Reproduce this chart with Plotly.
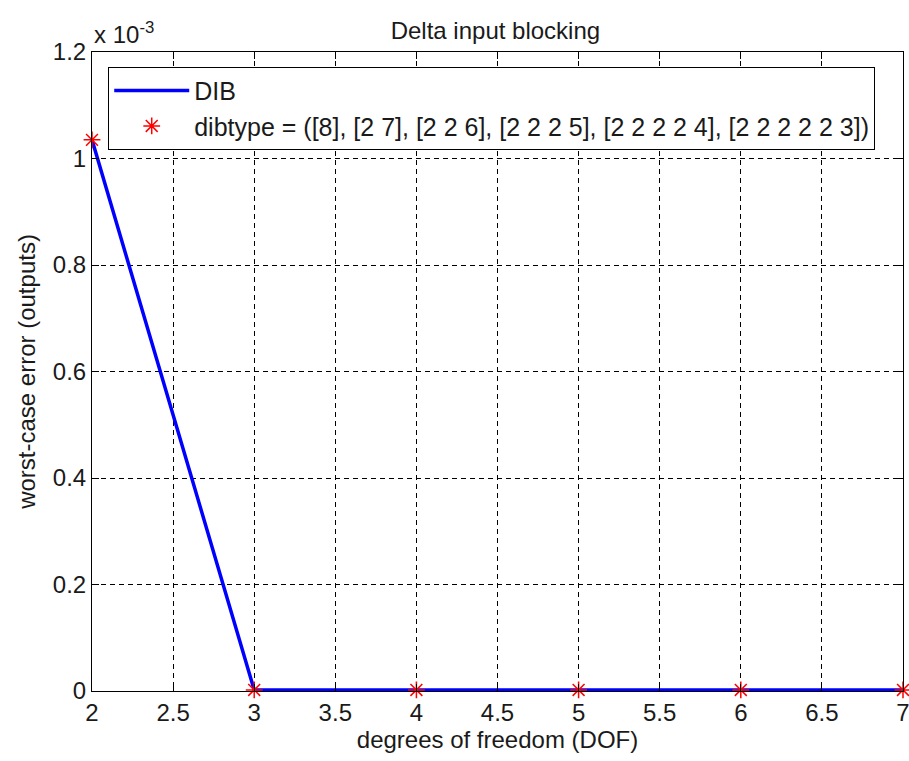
import plotly.graph_objects as go

dof = [2, 3, 4, 5, 6, 7]
worst_case_error = [1.035e-3, 2e-6, 2e-6, 2e-6, 2e-6, 2e-6]
x_ticks = [2, 2.5, 3, 3.5, 4, 4.5, 5, 5.5, 6, 6.5, 7]
y_tick_vals = [0, 0.2e-3, 0.4e-3, 0.6e-3, 0.8e-3, 1.0e-3, 1.2e-3]
y_tick_text = ["0", "0.2", "0.4", "0.6", "0.8", "1", "1.2"]

FONT = "Liberation Sans, Arial, sans-serif"
TXT = "#1a1a1a"

fig = go.Figure()
fig.add_trace(go.Scatter(
    x=dof, y=worst_case_error, mode="lines", name="DIB",
    line=dict(color="#0000ff", width=3.5), cliponaxis=False,
))
fig.add_trace(go.Scatter(
    x=dof, y=worst_case_error, mode="markers",
    name="dibtype = ([8], [2 7], [2 2 6], [2 2 2 5], [2 2 2 2 4], [2 2 2 2 2 3])",
    marker=dict(symbol="asterisk-open", size=14, color="#ff0000",
                line=dict(color="#ff0000", width=1.5)),
    cliponaxis=False,
))

axis_common = dict(
    showline=True, linecolor="black", linewidth=1, mirror="ticks",
    ticks="inside", ticklen=7, tickcolor="black", automargin=False,
    ticklabeloverflow="allow",
    showgrid=True, gridcolor="black", gridwidth=1, griddash="5px,4px",
    zeroline=False, tickfont=dict(family=FONT, size=24, color=TXT),
)

fig.update_layout(
    width=909, height=761,
    margin=dict(l=92, r=6, t=52, b=70),
    paper_bgcolor="white", plot_bgcolor="white",
    font=dict(family=FONT, size=24, color=TXT),
    title=dict(text="Delta input blocking", x=0.545, xanchor="center",
               y=0.96, yanchor="middle", font=dict(family=FONT, size=24, color=TXT)),
    xaxis=dict(range=[2, 7], tickvals=x_ticks, ticktext=[f"{v:g}" for v in x_ticks],
               title=dict(text="degrees of freedom (DOF)", standoff=6,
                          font=dict(family=FONT, size=24)),
               **axis_common),
    yaxis=dict(range=[0, 1.2e-3], tickvals=y_tick_vals, ticktext=y_tick_text,
               title=dict(text="worst-case error (outputs)", standoff=10,
                          font=dict(family=FONT, size=24)),
               **axis_common),
    showlegend=True,
    legend=dict(x=0.02, y=0.977, xanchor="left", yanchor="top",
                bgcolor="white", bordercolor="black", borderwidth=1,
                font=dict(family=FONT, size=25, color=TXT),
                itemwidth=75, tracegroupgap=0),
)

fig.add_annotation(
    text="x 10<sup>-3</sup>", xref="paper", yref="paper",
    x=0.0, y=1.0, xanchor="left", yanchor="bottom", yshift=2,
    showarrow=False, font=dict(family=FONT, size=24, color=TXT),
)

fig.write_html("out.html", config={"displayModeBar": False},
               post_script="document.body.style.margin='0';")
